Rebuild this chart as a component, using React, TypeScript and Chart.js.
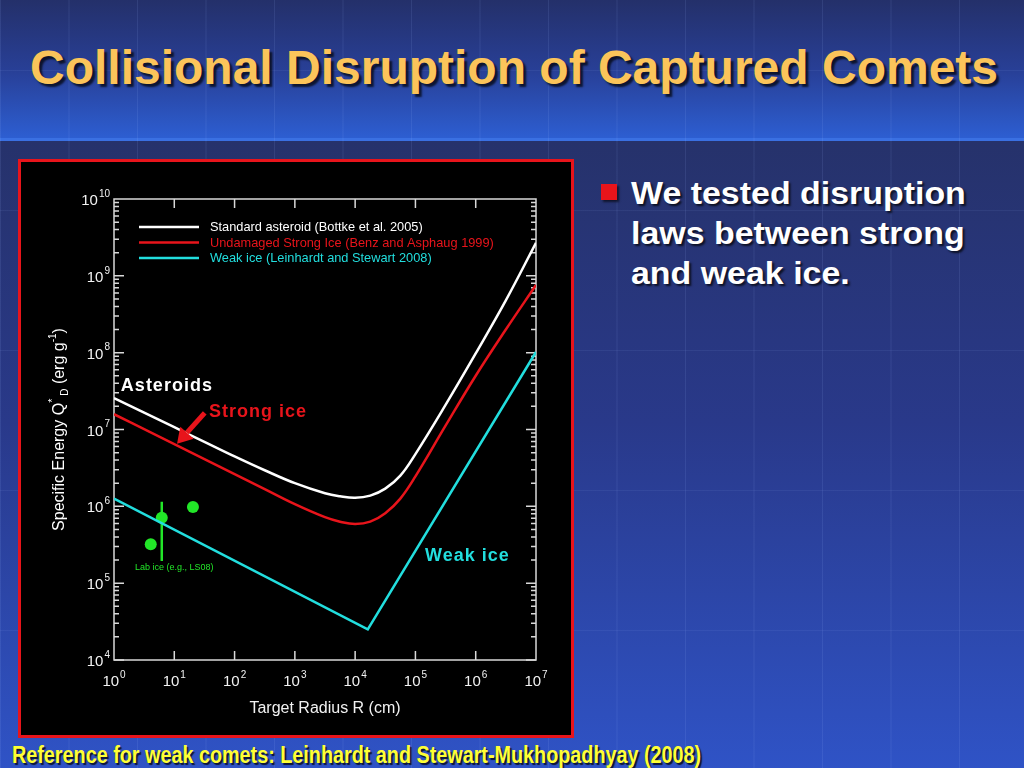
import React, { useEffect, useRef } from 'react';
import { Chart, registerables } from 'chart.js';

Chart.register(...registerables);

const FONT = '"Liberation Sans", Arial, Helvetica, sans-serif';

// Target radius R (cm) at which the curves were read
const radiusCm = [1, 3.16, 10, 31.6, 100, 316, 1000, 3160, 5620, 10000, 17800, 31600, 56200, 100000, 316000, 1e6, 3.16e6, 1e7];
// Standard asteroid (Bottke et al. 2005), Q*D in erg/g
const asteroidQ = [2.57e7, 1.66e7, 1.07e7, 6.92e6, 4.47e6, 2.95e6, 2.0e6, 1.48e6, 1.35e6, 1.29e6, 1.38e6, 1.7e6, 2.51e6, 4.79e6, 2.09e7, 9.77e7, 4.79e8, 2.69e9];
// Undamaged strong ice (Benz and Asphaug 1999)
const strongIceQ = [1.58e7, 1.01e7, 6.46e6, 4.12e6, 2.63e6, 1.68e6, 1.07e6, 7.24e5, 6.31e5, 5.89e5, 6.31e5, 8.13e5, 1.26e6, 2.45e6, 1.12e7, 5.01e7, 2.0e8, 7.59e8];
// Weak ice (Leinhardt and Stewart 2008)
const weakIceR = [1, 16200, 1e7];
const weakIceQ = [1.26e6, 2.5e4, 1.02e8];
// Lab ice measurements
const labIceR = [4.07, 6.2, 20.4];
const labIceQ = [3.2e5, 7.1e5, 9.8e5];
const labErrR = [6.2, 6.2];
const labErrQ = [1.15e6, 1.95e5];

const xTickValues = [1, 10, 100, 1000, 1e4, 1e5, 1e6, 1e7];
const yTickValues = [1e4, 1e5, 1e6, 1e7, 1e8, 1e9, 1e10];

const seriesLabels = [
  'Standard asteroid (Bottke et al. 2005)',
  'Undamaged Strong Ice (Benz and Asphaug 1999)',
  'Weak ice (Leinhardt and Stewart 2008)',
];

const WHITE = '#ffffff';
const RED = '#e8141b';
const CYAN = '#22dede';
const GREEN = '#22e628';
const AXIS_TEXT = '#f2f2f2';

const pts = (xs: number[], ys: number[]) => xs.map((x, i) => ({ x, y: ys[i] }));

// draws "10" with a raised exponent; align 'center' or 'right'
const drawPow = (ctx: CanvasRenderingContext2D, v: number, x: number, y: number, align: string) => {
  const e = String(Math.round(Math.log10(v)));
  ctx.font = '15px ' + FONT;
  const w1 = ctx.measureText('10').width;
  ctx.font = '10px ' + FONT;
  const w2 = ctx.measureText(e).width;
  const total = w1 + 1 + w2;
  const sx = align === 'center' ? x - total / 2 : x - total;
  ctx.textAlign = 'left';
  ctx.textBaseline = 'middle';
  ctx.font = '15px ' + FONT;
  ctx.fillText('10', sx, y);
  ctx.font = '10px ' + FONT;
  ctx.fillText(e, sx + w1 + 1, y - 7);
};

const decorPlugin = {
  id: 'decor',
  beforeDatasetsDraw(chart: any) {
    const { ctx, chartArea: a, scales } = chart;
    const x = scales.x;
    const y = scales.y;
    ctx.save();
    ctx.strokeStyle = '#d9d9d9';
    ctx.lineWidth = 1.5;
    ctx.strokeRect(a.left, a.top, a.right - a.left, a.bottom - a.top);
    ctx.beginPath();
    xTickValues.forEach((v) => {
      const px = x.getPixelForValue(v);
      if (px <= a.left + 1 || px >= a.right - 1) return;
      ctx.moveTo(px, a.bottom);
      ctx.lineTo(px, a.bottom - 9);
      ctx.moveTo(px, a.top);
      ctx.lineTo(px, a.top + 9);
    });
    for (let d = 4; d < 10; d++) {
      for (let m = 1; m < 10; m++) {
        const py = y.getPixelForValue(m * Math.pow(10, d));
        const len = m === 1 ? 10 : 5;
        ctx.moveTo(a.left, py);
        ctx.lineTo(a.left + len, py);
        ctx.moveTo(a.right, py);
        ctx.lineTo(a.right - len, py);
      }
    }
    ctx.stroke();
    // tick labels
    ctx.fillStyle = AXIS_TEXT;
    xTickValues.forEach((v) => drawPow(ctx, v, x.getPixelForValue(v), a.bottom + 22, 'center'));
    yTickValues.forEach((v) => drawPow(ctx, v, a.left - 4, y.getPixelForValue(v) + 2, 'right'));
    ctx.restore();
  },
  afterDatasetsDraw(chart: any) {
    const { ctx, chartArea: a, scales } = chart;
    const x = scales.x;
    const y = scales.y;
    ctx.save();
    // legend
    chart.data.datasets.slice(0, 3).forEach((ds: any, i: number) => {
      const yy = a.top + 28 + i * 15.5;
      ctx.strokeStyle = ds.borderColor;
      ctx.lineWidth = 2.5;
      ctx.beginPath();
      ctx.moveTo(a.left + 25, yy);
      ctx.lineTo(a.left + 85, yy);
      ctx.stroke();
      ctx.fillStyle = ds.borderColor;
      ctx.font = '12.8px ' + FONT;
      ctx.textAlign = 'left';
      ctx.textBaseline = 'middle';
      ctx.fillText(ds.label, a.left + 96, yy + 0.5);
    });
    // annotations
    const note = (text: string, r: number, q: number, color: string, font: string, spacing: string) => {
      ctx.fillStyle = color;
      ctx.font = font;
      (ctx as any).letterSpacing = spacing;
      ctx.textAlign = 'left';
      ctx.textBaseline = 'middle';
      ctx.fillText(text, x.getPixelForValue(r), y.getPixelForValue(q));
      (ctx as any).letterSpacing = '0px';
    };
    note('Asteroids', 1.3, 3.7e7, WHITE, 'bold 18px ' + FONT, '1px');
    note('Strong ice', 37.6, 1.7e7, RED, 'bold 18px ' + FONT, '1px');
    note('Weak ice', 1.44e5, 2.25e5, CYAN, 'bold 18px ' + FONT, '1px');
    ctx.fillStyle = GREEN;
    ctx.font = '9px ' + FONT;
    ctx.textAlign = 'center';
    ctx.textBaseline = 'middle';
    ctx.fillText('Lab ice (e.g., LS08)', x.getPixelForValue(10), y.getPixelForValue(1.58e5));
    // arrow
    const tx = x.getPixelForValue(32), ty = y.getPixelForValue(1.65e7);
    const hx = x.getPixelForValue(11.1), hy = y.getPixelForValue(6.5e6);
    const ang = Math.atan2(hy - ty, hx - tx);
    const headLen = 15, headW = 9;
    const bx = hx - headLen * Math.cos(ang), by = hy - headLen * Math.sin(ang);
    ctx.strokeStyle = RED;
    ctx.fillStyle = RED;
    ctx.lineWidth = 5;
    ctx.beginPath();
    ctx.moveTo(tx, ty);
    ctx.lineTo(bx, by);
    ctx.stroke();
    ctx.beginPath();
    ctx.moveTo(hx, hy);
    ctx.lineTo(bx + headW * Math.sin(ang), by - headW * Math.cos(ang));
    ctx.lineTo(bx - headW * Math.sin(ang), by + headW * Math.cos(ang));
    ctx.closePath();
    ctx.fill();
    // y axis title with sub/superscripts
    const segs = [
      { t: 'Specific Energy Q', s: 16, dy: 0 },
      { t: '*', s: 11, dy: -7 },
      { t: ' D', s: 10, dy: 5 },
      { t: ' (erg g', s: 16, dy: 0 },
      { t: '-1', s: 10, dy: -7 },
      { t: ')', s: 16, dy: 0 },
    ];
    let total = 0;
    segs.forEach((sg) => {
      ctx.font = sg.s + 'px ' + FONT;
      total += ctx.measureText(sg.t).width;
    });
    ctx.translate(39, (a.top + a.bottom) / 2);
    ctx.rotate(-Math.PI / 2);
    ctx.fillStyle = WHITE;
    ctx.textAlign = 'left';
    ctx.textBaseline = 'middle';
    let cx = -total / 2;
    segs.forEach((sg) => {
      ctx.font = sg.s + 'px ' + FONT;
      ctx.fillText(sg.t, cx, sg.dy);
      cx += ctx.measureText(sg.t).width;
    });
    ctx.restore();
  },
};

export default function App() {
  const ref = useRef<HTMLCanvasElement>(null);
  useEffect(() => {
    const chart = new Chart(ref.current as HTMLCanvasElement, {
      type: 'line',
      data: {
        datasets: [
          { label: seriesLabels[0], data: pts(radiusCm, asteroidQ), borderColor: WHITE, borderWidth: 2.5, pointRadius: 0, tension: 0.4 },
          { label: seriesLabels[1], data: pts(radiusCm, strongIceQ), borderColor: RED, borderWidth: 2.5, pointRadius: 0, tension: 0.4 },
          { label: seriesLabels[2], data: pts(weakIceR, weakIceQ), borderColor: CYAN, borderWidth: 2.5, pointRadius: 0, tension: 0 },
          { label: 'Lab ice range', data: pts(labErrR, labErrQ), borderColor: GREEN, borderWidth: 2.5, pointRadius: 0 },
          { label: 'Lab ice', data: pts(labIceR, labIceQ), showLine: false, pointRadius: 6, pointBackgroundColor: GREEN, pointBorderWidth: 0, borderColor: GREEN },
        ] as any,
      },
      options: {
        animation: false,
        responsive: false,
        maintainAspectRatio: false,
        layout: { padding: { top: 37, right: 35, left: 0, bottom: 0 } },
        scales: {
          x: {
            type: 'logarithmic',
            min: 1,
            max: 1e7,
            afterBuildTicks: (s: any) => { s.ticks = xTickValues.map((v) => ({ value: v })); },
            afterFit: (s: any) => { s.height = 75; },
            grid: { display: false },
            border: { display: false },
            ticks: { display: false },
            title: { display: true, text: 'Target Radius R (cm)', color: AXIS_TEXT, font: { family: FONT, size: 16 }, padding: { top: 0, bottom: 17 } },
          },
          y: {
            type: 'logarithmic',
            min: 1e4,
            max: 1e10,
            afterBuildTicks: (s: any) => { s.ticks = yTickValues.map((v) => ({ value: v })); },
            afterFit: (s: any) => { s.width = 93; },
            grid: { display: false },
            border: { display: false },
            ticks: { display: false },
          },
        },
        plugins: { legend: { display: false }, tooltip: { enabled: false } },
      } as any,
      plugins: [decorPlugin],
    });
    return () => chart.destroy();
  }, []);

  return (
    <div style={{ position: 'fixed', left: 0, top: 0, width: 1024, height: 768, overflow: 'hidden', fontFamily: FONT }}>
      <div style={{ position: 'absolute', left: 0, top: 0, width: 1024, height: 140, background: 'linear-gradient(180deg, #24306a 0%, #283f96 50%, #2d5fd3 100%)' }} />
      <div style={{ position: 'absolute', left: 0, top: 138, width: 1024, height: 3, background: '#3a70e2' }} />
      <div style={{ position: 'absolute', left: 0, top: 141, width: 1024, height: 627, background: 'linear-gradient(180deg, #26326b 0%, #29398a 45%, #2f53c6 100%)' }} />
      <div
        style={{
          position: 'absolute', left: 0, top: 0, width: 1024, height: 768,
          backgroundImage: 'linear-gradient(to right, rgba(160,190,255,0.11) 1px, transparent 1px), linear-gradient(to bottom, rgba(160,190,255,0.08) 1px, transparent 1px)',
          backgroundSize: '68.5px 140px',
          backgroundPosition: '0px 70px',
        }}
      />
      <div style={{ position: 'absolute', left: 2, top: 44, width: 1024, textAlign: 'center', fontSize: 48, lineHeight: '48px', fontWeight: 'bold', color: '#fbc45a', textShadow: '3px 3px 2px rgba(0,0,0,0.7)', whiteSpace: 'nowrap' }}>
        Collisional Disruption of Captured Comets
      </div>
      <div style={{ position: 'absolute', left: 18, top: 159, width: 556, height: 579, boxSizing: 'border-box', border: '3px solid #e8141b', background: '#000' }}>
        <canvas ref={ref} width={550} height={573} style={{ display: 'block', width: 550, height: 573 }} />
      </div>
      <div style={{ position: 'absolute', left: 601, top: 184, width: 16, height: 16, background: '#e8141b', boxShadow: '2px 2px 2px rgba(0,0,0,0.6)' }} />
      <div style={{ position: 'absolute', left: 631, top: 173, fontSize: 32, lineHeight: '40px', fontWeight: 'bold', color: '#ffffff', textShadow: '2px 2px 2px rgba(0,0,0,0.7)', whiteSpace: 'nowrap', transform: 'scaleX(1.06)', transformOrigin: 'left top' }}>
        We tested disruption<br />laws between strong<br />and weak ice.
      </div>
      <div style={{ position: 'absolute', left: 12, top: 744, fontSize: 23, lineHeight: '23px', fontWeight: 'bold', color: '#ffff33', textShadow: '2px 2px 1px rgba(0,0,0,0.75)', whiteSpace: 'nowrap', transform: 'scaleX(0.86)', transformOrigin: 'left top' }}>
        Reference for weak comets: Leinhardt and Stewart-Mukhopadhyay (2008)
      </div>
    </div>
  );
}
